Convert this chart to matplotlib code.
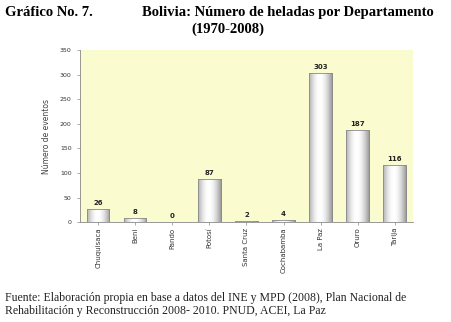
import matplotlib
matplotlib.use("Agg")
import matplotlib.pyplot as plt
import numpy as np

departamentos = ["Chuquisaca", "Beni", "Pando", "Potosí", "Santa Cruz",
                 "Cochabamba", "La Paz", "Oruro", "Tarija"]
eventos = [26, 8, 0, 87, 2, 4, 303, 187, 116]
yticks = [0, 50, 100, 150, 200, 250, 300, 350]

fig = plt.figure(figsize=(4.51, 3.22), dpi=100)
fig.patch.set_facecolor("white")
ax = fig.add_axes([0.177, 0.31, 0.739, 0.535])
ax.set_facecolor("#fbfbd0")

x = np.arange(len(departamentos))
bars = ax.bar(x, eventos, width=0.6, color="#d8d8d8", edgecolor="#8a8a8a",
              linewidth=0.6, zorder=2)

# cylinder-like gradient
grad = np.linspace(0, 1, 64)
shade = 0.55 + 0.45 * np.sin(np.pi * (grad * 0.85 + 0.1))
img = np.tile(shade, (2, 1))
for b in bars:
    h = b.get_height()
    if h <= 0:
        continue
    x0 = b.get_x()
    w = b.get_width()
    im = ax.imshow(img, cmap="gray", vmin=0, vmax=1, aspect="auto",
                   extent=[x0, x0 + w, 0, h], zorder=3)
    im.set_clip_path(b)
    ax.add_patch(plt.Rectangle((x0, 0), w, h, fill=False,
                               edgecolor="#8a8a8a", linewidth=0.6, zorder=4))

for xi, v in zip(x, eventos):
    ax.text(xi, v + 6, str(v), ha="center", va="bottom", fontsize=5,
            fontweight="bold", color="#222222", zorder=5)

ax.set_xlim(-0.5, len(departamentos) - 0.5)
ax.set_ylim(0, 350)
ax.set_yticks(yticks)
ax.set_yticklabels([str(t) for t in yticks], fontsize=4.5, color="#555555")
ax.set_xticks(x)
ax.set_xticklabels(departamentos, rotation=90, fontsize=5, color="#333333")
ax.tick_params(axis="both", length=2, width=0.5, colors="#888888",
               labelcolor="#333333", pad=2)
ax.tick_params(axis="y", pad=4)
for s in ["top", "right"]:
    ax.spines[s].set_visible(False)
for s in ["left", "bottom"]:
    ax.spines[s].set_color("#888888")
    ax.spines[s].set_linewidth(0.6)
ax.set_ylabel("Número de eventos", fontsize=5.5, color="#444444", labelpad=6)

fig.text(0.011, 0.962, "Gráfico No. 7.", family="Liberation Serif",
         fontweight="bold", fontsize=10.5, va="center", ha="left")
fig.text(0.315, 0.962, "Bolivia: Número de heladas por Departamento",
         family="Liberation Serif", fontweight="bold", fontsize=10.5,
         va="center", ha="left")
fig.text(0.505, 0.91, "(1970-2008)", family="Liberation Serif",
         fontweight="bold", fontsize=10.5, va="center", ha="center")

fig.text(0.011, 0.054,
         "Fuente: Elaboración propia en base a datos del INE y MPD (2008), Plan Nacional de\n"
         "Rehabilitación y Reconstrucción 2008- 2010. PNUD, ACEI, La Paz",
         family="Liberation Serif", fontsize=8.5, va="center", ha="left",
         linespacing=1.15, color="#222222")

fig.savefig("out.png", dpi=100)
